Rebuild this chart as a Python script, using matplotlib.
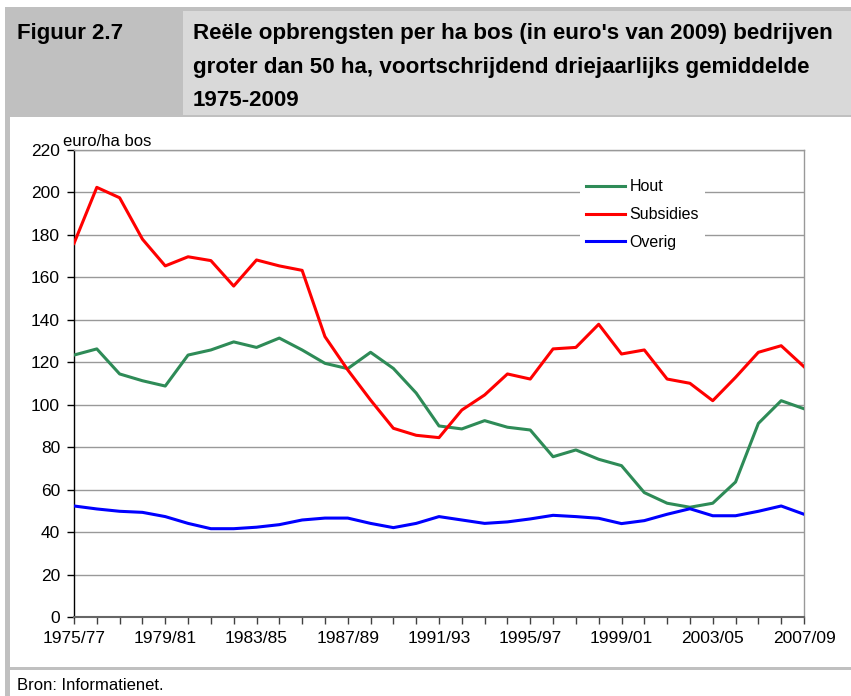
import matplotlib
matplotlib.use("Agg")
import matplotlib.pyplot as plt
from matplotlib.patches import Rectangle

W, H = 851, 696

periods = [
    "1975/77", "1976/78", "1977/79", "1978/80", "1979/81", "1980/82", "1981/83",
    "1982/84", "1983/85", "1984/86", "1985/87", "1986/88", "1987/89", "1988/90",
    "1989/91", "1990/92", "1991/93", "1992/94", "1993/95", "1994/96", "1995/97",
    "1996/98", "1997/99", "1998/00", "1999/01", "2000/02", "2001/03", "2002/04",
    "2003/05", "2004/06", "2005/07", "2006/08", "2007/09",
]
hout = [123.4, 126.3, 114.5, 111.3, 108.8, 123.4, 125.8, 129.6, 127.0, 131.4,
        125.8, 119.5, 117.0, 124.7, 117.1, 105.5, 90.0, 88.6, 92.5, 89.4,
        88.1, 75.5, 78.7, 74.3, 71.3, 58.6, 53.6, 51.7, 53.6, 63.6,
        91.2, 101.9, 98.1]
subsidies = [176.0, 202.4, 197.5, 178.0, 165.4, 169.7, 167.9, 155.9, 168.2, 165.4,
             163.3, 132.1, 116.4, 102.2, 88.9, 85.6, 84.5, 97.5, 104.6, 114.5,
             112.1, 126.3, 127.0, 137.9, 123.9, 125.8, 112.1, 110.1, 101.9, 112.9,
             124.7, 127.8, 117.9]
overig = [52.3, 50.9, 49.8, 49.3, 47.3, 44.1, 41.6, 41.6, 42.3, 43.5,
          45.7, 46.6, 46.6, 44.1, 42.1, 44.1, 47.3, 45.7, 44.1, 44.8,
          46.2, 47.9, 47.3, 46.5, 44.0, 45.4, 48.4, 51.0, 47.7, 47.7,
          49.8, 52.3, 48.4]
yticks = list(range(0, 221, 20))

plt.rcParams['font.family'] = ['Liberation Sans', 'DejaVu Sans']


def px_rect(fig, x0, y0, x1, y1, color):
    # rectangle given in image pixels (origin top-left)
    fig.add_artist(Rectangle((x0 / W, 1 - y1 / H), (x1 - x0) / W, (y1 - y0) / H,
                             transform=fig.transFigure, facecolor=color,
                             edgecolor='none', zorder=0))


def fx(x):
    return x / W


def fy(y):
    return 1 - y / H


fig = plt.figure(figsize=(W / 100, H / 100), dpi=100)
fig.patch.set_facecolor('white')

# page frame
px_rect(fig, 5, 7, W, 117, '#c0c0c0')
px_rect(fig, 183, 11, W, 115, '#d9d9d9')
px_rect(fig, 5, 117, 10, H, '#c0c0c0')
px_rect(fig, 5, 667, W, 670, '#c0c0c0')

fig.text(fx(17), fy(33), "Figuur 2.7", weight='bold',
         fontsize=16, va='center', ha='left')
title_lines = [
    "Reële opbrengsten per ha bos (in euro's van 2009) bedrijven",
    "groter dan 50 ha, voortschrijdend driejaarlijks gemiddelde",
    "1975-2009",
]
for i, line in enumerate(title_lines):
    fig.text(fx(193), fy(33 + 34 * i), line, weight='bold',
             fontsize=16.1, va='center', ha='left')

fig.text(fx(17), fy(686), "Bron: Informatienet.", fontsize=12, va='center', ha='left')

ax = fig.add_axes([fx(74), fy(617), (804 - 74) / W, (617 - 150) / H])
x = list(range(len(periods)))
ax.plot(x, hout, color='#2E8B57', lw=2.2, label='Hout', zorder=3)
ax.plot(x, subsidies, color='#FF0000', lw=2.2, label='Subsidies', zorder=3)
ax.plot(x, overig, color='#0000FF', lw=2.2, label='Overig', zorder=3)

ax.set_xlim(0, len(periods) - 1)
ax.set_ylim(0, 220)
ax.set_yticks(yticks)
ax.set_yticklabels([str(v) for v in yticks], fontsize=12.5)
ax.set_xticks(x)
ax.set_xticklabels([p if i % 4 == 0 else '' for i, p in enumerate(periods)], fontsize=12.5)
ax.tick_params(axis='y', direction='out', length=5, width=1, color='black', pad=5)
ax.tick_params(axis='x', direction='out', length=5, width=1, color='#404040', pad=5)

ax.grid(axis='y', color='#999999', lw=1)
ax.set_axisbelow(True)
ax.spines['left'].set_color('black')
ax.spines['bottom'].set_color('#666666')
ax.spines['top'].set_color('#999999')
ax.spines['right'].set_color('#999999')
for s in ax.spines.values():
    s.set_linewidth(1)
ax.spines['bottom'].set_linewidth(1.5)

fig.text(fx(63), fy(141), "euro/ha bos", fontsize=12, va='center', ha='left')

leg = ax.legend(loc='upper left', bbox_to_anchor=(fx(580), fy(173)),
                bbox_transform=fig.transFigure, fontsize=11.5, frameon=True,
                fancybox=False, edgecolor='none', facecolor='white', framealpha=1,
                handlelength=2.4, handletextpad=0.3, labelspacing=0.8,
                borderpad=0.4, borderaxespad=0)
leg.set_zorder(4)

fig.savefig('out.png', dpi=100)
